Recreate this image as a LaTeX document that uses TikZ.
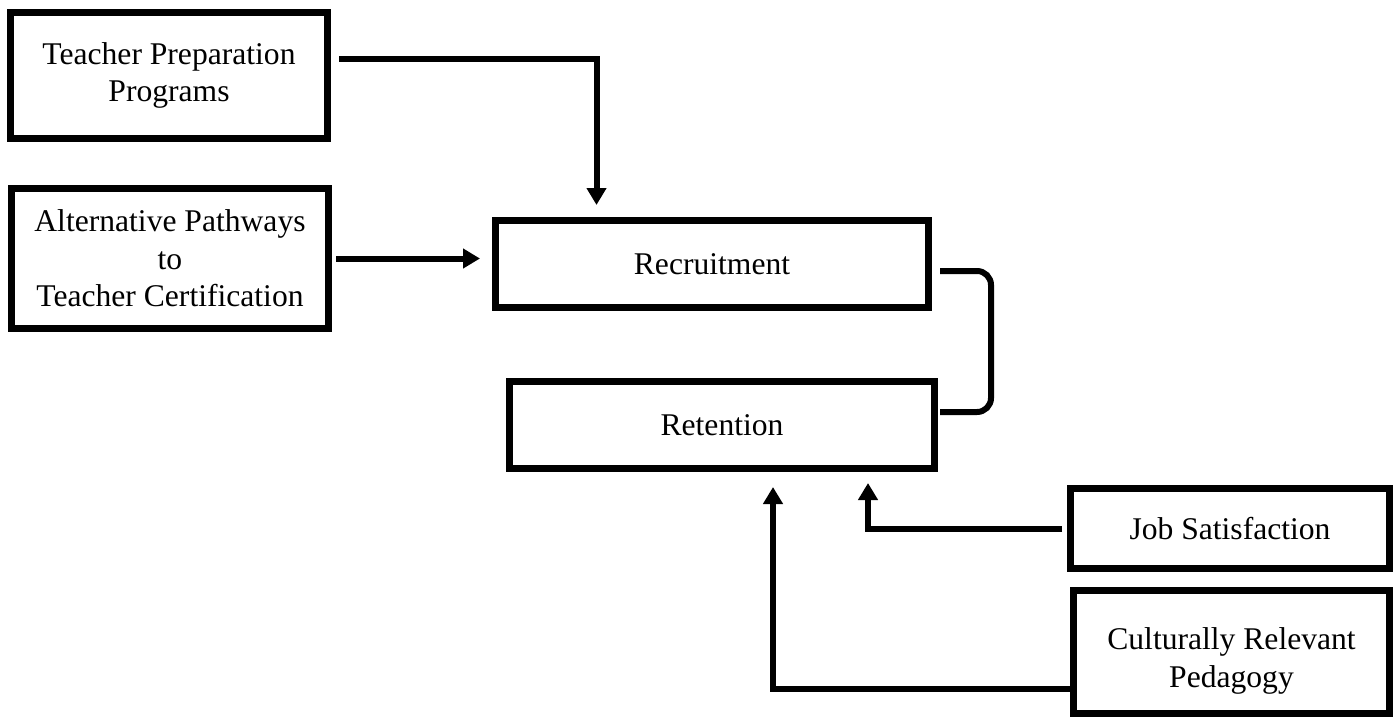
\documentclass[tikz,border=0pt]{standalone}
\usepackage{fontspec}
\setmainfont{Liberation Serif}
\usetikzlibrary{arrows.meta, calc}

\begin{document}
\begin{tikzpicture}[x=0.5pt, y=-0.5pt,
    font=\fontsize{15.8}{18.75}\selectfont,
    pbox/.style={draw, line width=3.5pt, align=center, inner sep=0pt},
    link/.style={line width=3pt},
    arr/.style={link, -{Triangle[length=8.5pt, width=9.5pt]}}]
  \useasboundingbox (0,0) rectangle (1395,717);
  % left column
  \node[pbox, minimum width=158.5pt, minimum height=63pt] (tpp) at (169,75.5)
    {Teacher Preparation\\Programs};
  \node[pbox, minimum width=158.5pt, minimum height=70pt] (alt) at (170,258.5)
    {Alternative Pathways\\to\\Teacher Certification};
  % middle
  \node[pbox, minimum width=216.5pt, minimum height=43.5pt] (rec) at (712,264) {Recruitment};
  \node[pbox, minimum width=212.5pt, minimum height=43.5pt] (ret) at (722,425) {Retention};
  % right column
  \node[pbox, minimum width=159.5pt, minimum height=40pt] (js) at (1230,528.5) {Job Satisfaction};
  \node[pbox, minimum width=158pt, minimum height=61.25pt,
    label={[align=center, yshift=-4.5pt]center:{Culturally Relevant\\Pedagogy}}]
    (crp) at (1231.5,651.75) {};
  % connectors
  \draw[arr] ($(tpp.east)+(8,-16.5)$) -| ($(rec.north west)+(104.5,-12)$);
  \draw[arr] ([xshift=2pt]alt.east) -- ([xshift=-6pt]alt.east -| rec.west);
  \draw[link, rounded corners=7pt] ($(rec.east)+(8,7)$) -- ($(rec.east)+(59,7)$)
    -- ($(ret.east)+(53,-13)$) -- ($(ret.east)+(2,-13)$);
  \draw[arr] ([xshift=-2.5pt]js.west) -| ($(ret.south west)+(362,11)$);
  \draw[arr] ($(crp.west)+(0,37)$) -| ($(ret.south west)+(267,15)$);
\end{tikzpicture}
\end{document}
